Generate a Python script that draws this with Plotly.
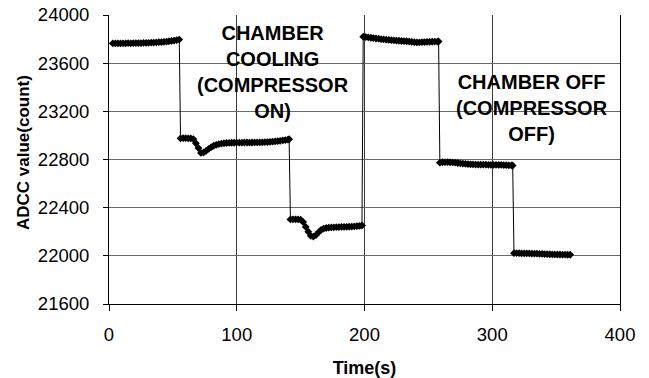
import plotly.graph_objects as go

# Time (s) samples and ADCC counts for each step of the run
t_seg1 = [3, 5, 7, 9, 11, 13, 15, 17, 19, 21, 23, 25, 27, 29, 31, 33, 35, 37, 39, 41,
          43, 45, 47, 49, 51, 53, 55]
v_seg1 = [23764, 23764, 23765, 23764, 23765, 23765, 23766, 23765, 23766, 23767,
          23766, 23767, 23768, 23768, 23769, 23770, 23771, 23772, 23774, 23775,
          23777, 23779, 23782, 23785, 23788, 23792, 23796]

t_seg2 = [56, 58, 60, 62, 64, 66, 68, 70, 72, 74, 76, 78, 80, 82, 84, 86, 88, 90, 92,
          94, 96, 98, 100, 102, 104, 106, 108, 110, 112, 114, 116, 118, 120, 122, 124,
          126, 128, 130, 132, 134, 136, 138, 140, 141]
v_seg2 = [22976, 22977, 22977, 22976, 22975, 22970, 22935, 22895, 22855, 22858,
          22872, 22888, 22902, 22914, 22922, 22928, 22932, 22935, 22937, 22938,
          22939, 22939, 22940, 22940, 22940, 22941, 22941, 22940, 22941, 22942,
          22942, 22943, 22943, 22944, 22945, 22947, 22948, 22950, 22952, 22955,
          22958, 22961, 22965, 22968]

t_seg3 = [142, 144, 146, 148, 150, 152, 154, 156, 158, 160, 162, 164, 166, 168, 170,
          172, 174, 176, 178, 180, 182, 184, 186, 188, 190, 192, 194, 196, 198]
v_seg3 = [22302, 22303, 22303, 22302, 22300, 22280, 22240, 22200, 22165, 22160,
          22172, 22195, 22215, 22226, 22231, 22234, 22236, 22237, 22238, 22239,
          22240, 22240, 22241, 22242, 22243, 22244, 22246, 22248, 22252]

t_seg4 = [199, 201, 203, 205, 207, 209, 211, 213, 215, 217, 219, 221, 223, 225, 227,
          229, 231, 233, 235, 237, 239, 241, 243, 245, 247, 249, 251, 253, 255, 257, 258]
v_seg4 = [23820, 23817, 23814, 23811, 23808, 23805, 23803, 23800, 23797, 23795,
          23793, 23791, 23790, 23788, 23786, 23784, 23783, 23782, 23780, 23777,
          23774, 23772, 23772, 23774, 23775, 23776, 23777, 23778, 23779, 23779, 23780]

t_seg5 = [259, 261, 263, 265, 267, 269, 271, 273, 275, 277, 279, 281, 283, 285, 287,
          289, 291, 293, 295, 297, 299, 301, 303, 305, 307, 309, 311, 313, 315, 316]
v_seg5 = [22774, 22777, 22778, 22778, 22777, 22776, 22774, 22771, 22768, 22766,
          22764, 22762, 22760, 22759, 22758, 22758, 22757, 22757, 22757, 22756,
          22756, 22756, 22756, 22755, 22755, 22754, 22753, 22752, 22751, 22750]

t_seg6 = [317, 319, 321, 323, 325, 327, 329, 331, 333, 335, 337, 339, 341, 343, 345,
          347, 349, 351, 353, 355, 357, 359, 361]
v_seg6 = [22022, 22022, 22022, 22021, 22021, 22020, 22020, 22019, 22019, 22018,
          22017, 22016, 22015, 22014, 22013, 22012, 22012, 22011, 22011, 22010,
          22010, 22009, 22009]

x_ticks = [0, 100, 200, 300, 400]
y_ticks = [21600, 22000, 22400, 22800, 23200, 23600, 24000]

label_cooling = "CHAMBER<br>COOLING<br>(COMPRESSOR<br>ON)"
label_off = "CHAMBER OFF<br>(COMPRESSOR<br>OFF)"

time = t_seg1 + t_seg2 + t_seg3 + t_seg4 + t_seg5 + t_seg6
adcc = v_seg1 + v_seg2 + v_seg3 + v_seg4 + v_seg5 + v_seg6

FONT = "Liberation Sans, Arial, sans-serif"
L, R, T, B = 109, 29, 15, 74
W, H = 649, 378
PW, PH = W - L - R, H - T - B

fig = go.Figure()
fig.add_trace(go.Scatter(
    x=time, y=adcc, mode="lines+markers",
    line=dict(color="black", width=1),
    marker=dict(symbol="diamond", size=6, color="black"),
    showlegend=False,
))

fig.update_layout(
    width=W, height=H,
    margin=dict(l=L, r=R, t=T, b=B),
    paper_bgcolor="white", plot_bgcolor="white",
    font=dict(family=FONT, color="black", size=18.5),
)

fig.update_xaxes(
    range=[0, 400], tickvals=x_ticks, ticktext=[str(v) for v in x_ticks],
    showgrid=True, gridcolor="#3a3a3a", gridwidth=1,
    showline=True, linecolor="black", linewidth=1, mirror=False,
    ticks="outside", ticklen=6, tickcolor="black",
    ticklabelstandoff=8, automargin=False,
    zeroline=False,
    title=dict(text="<b>Time(s)</b>", font=dict(size=18), standoff=19),
)
fig.update_yaxes(
    range=[21600, 24000], tickvals=y_ticks, ticktext=[str(v) for v in y_ticks],
    showgrid=True, gridcolor="#6a6a6a", gridwidth=1,
    showline=True, linecolor="black", linewidth=1, mirror=True,
    ticks="outside", ticklen=5, tickcolor="black",
    ticklabelstandoff=10, automargin=False,
    zeroline=False,
)

fig.add_annotation(
    text="<b>ADCC value(count)</b>", xref="paper", yref="paper",
    x=(23 - L) / PW, y=(H - B - 153) / PH,
    textangle=-90, showarrow=False, font=dict(size=17),
    xanchor="center", yanchor="middle",
)
fig.add_annotation(
    text="<b>" + label_cooling + "</b>", x=128.7, y=23527,
    showarrow=False, font=dict(size=20), xanchor="center", yanchor="middle",
)
fig.add_annotation(
    text="<b>" + label_off + "</b>", x=331.4, y=23231,
    showarrow=False, font=dict(size=20), xanchor="center", yanchor="middle",
)

fig.write_html("out.html")
